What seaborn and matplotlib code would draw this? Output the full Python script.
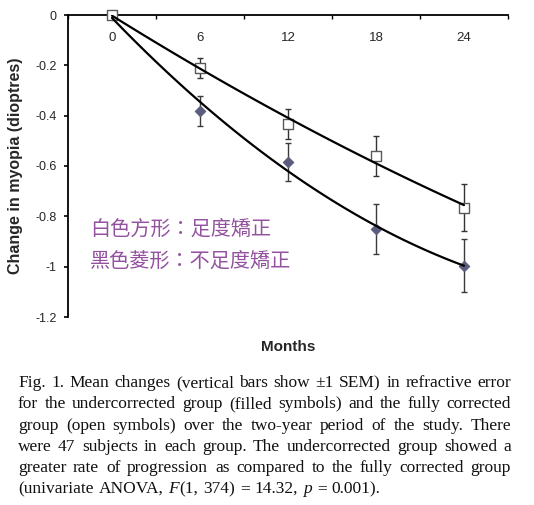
import numpy as np
import pandas as pd
import matplotlib
matplotlib.use("Agg")
import matplotlib.pyplot as plt
import seaborn as sns

# ---- data ----
months = [0, 6, 12, 18, 24]
full_change = [0.0, -0.21, -0.433, -0.56, -0.766]
full_sem = [0.0, 0.04, 0.058, 0.08, 0.093]
under_change = [0.0, -0.38, -0.585, -0.85, -0.996]
under_sem = [0.0, 0.06, 0.075, 0.10, 0.105]
y_ticks = [0, -0.2, -0.4, -0.6, -0.8, -1.0, -1.2]
y_tick_labels = ["0", "-0.2", "-0.4", "-0.6", "-0.8", "-1", "-1.2"]
x_labels = ["0", "6", "12", "18", "24"]
ylabel = "Change in myopia (dioptres)"
xlabel = "Months"
note_lines = ["白色方形：足度矯正", "黑色菱形：不足度矯正"]
caption = [
    "Fig. 1. Mean changes (vertical bars show ±1 SEM) in refractive error",
    "for the undercorrected group (filled symbols) and the fully corrected",
    "group (open symbols) over the two-year period of the study. There",
    "were 47 subjects in each group. The undercorrected group showed a",
    "greater rate of progression as compared to the fully corrected group",
    "(univariate ANOVA, F(1, 374) = 14.32, p = 0.001).",
]

df = pd.DataFrame({
    "month": months * 2,
    "change": full_change + under_change,
    "err": full_sem + under_sem,
    "group": ["full"] * 5 + ["under"] * 5,
})

sns.set_theme(style="white")
plt.rcParams["font.family"] = ["Liberation Sans", "DejaVu Sans"]

W, H = 534, 505
fig = plt.figure(figsize=(W / 100, H / 100), dpi=100)
ax = fig.add_axes([68 / W, 1 - 317 / H, 440 / W, 302 / H])

full = df[df["group"] == "full"]
under = df[df["group"] == "under"]

# error bars
ax.errorbar(full["month"], full["change"], yerr=full["err"], fmt="none", ecolor="#333333",
            elinewidth=1, capsize=2.5, capthick=1, zorder=2)
ax.errorbar(under["month"], under["change"], yerr=under["err"], fmt="none", ecolor="#3a3a3a",
            elinewidth=1, capsize=2.5, capthick=1, zorder=2)

# markers
sns.scatterplot(data=under, x="month", y="change", marker="D", s=28, color="#5c5c7e",
                edgecolor="#5c5c7e", linewidth=0.8, ax=ax, zorder=3, legend=False,
                clip_on=False)
sns.scatterplot(data=full, x="month", y="change", marker="s", s=62, color="white",
                edgecolor="#5a5a5a", linewidth=1, ax=ax, zorder=3.5, legend=False,
                clip_on=False)

# fitted curves
sns.regplot(data=full, x="month", y="change", order=2, ci=None, scatter=False, ax=ax,
            line_kws={"color": "black", "lw": 1.6, "zorder": 4})
sns.regplot(data=under, x="month", y="change", order=2, ci=None, scatter=False, ax=ax,
            line_kws={"color": "black", "lw": 1.6, "zorder": 4})

ax.set_xlim(-3, 27)
ax.set_ylim(-1.2, 0)
for s in ["bottom", "right"]:
    ax.spines[s].set_visible(False)
for s in ["top", "left"]:
    ax.spines[s].set_color("black")
    ax.spines[s].set_linewidth(1.3)

ax.xaxis.set_ticks_position("top")
ax.set_xticks([-3, 3, 9, 15, 21, 27])
ax.set_xticklabels([])
ax.set_xticks(months, minor=True)
ax.set_xticklabels(x_labels, minor=True)
ax.tick_params(axis="x", which="major", direction="in", length=3, width=1, color="black")
ax.tick_params(axis="x", which="minor", length=0, pad=-21, labelsize=9.5)

ax.set_yticks(y_ticks)
ax.set_yticklabels(y_tick_labels)
ax.tick_params(axis="y", which="major", direction="out", length=3, width=1.2,
               color="black", pad=5, labelsize=9, left=True)

ax.set_ylabel(ylabel, fontsize=11.5, fontweight="bold")
ax.yaxis.set_label_coords(-0.102, 0.5)
ax.xaxis.set_label_position("bottom")
ax.set_xlabel(xlabel, fontsize=11, fontweight="bold")
ax.xaxis.set_label_coords(0.5, -0.075)

# Chinese notes
for txt, yc in zip(note_lines, [229, 261]):
    fig.text(90 / W, 1 - yc / H, txt, fontsize=14.5, color="#93529f",
             family=["Noto Sans CJK TC", "DejaVu Sans"], va="center", ha="left")

# caption, justified
fig.canvas.draw()
renderer = fig.canvas.get_renderer()
cap_fs = 12.5
left_px, right_px = 18, 511
line_base = [387, 408, 429.5, 451, 472, 493]
space_w = None
for i, (line, yb) in enumerate(zip(caption, line_base)):
    words = line.split(" ")
    texts = []
    for w in words:
        if w == "F(1,":
            parts = [("F", "italic"), ("(1,", "normal")]
        elif w == "p":
            parts = [("p", "italic")]
        else:
            parts = [(w, "normal")]
        texts.append(parts)
    objs = []
    widths = []
    for parts in texts:
        po = []
        wsum = 0
        for s, st in parts:
            t = fig.text(0, 0, s, fontsize=cap_fs, family="Liberation Serif", style=st,
                         color="#111111", va="baseline", ha="left")
            bb = t.get_window_extent(renderer)
            po.append((t, bb.width))
            wsum += bb.width
        objs.append(po)
        widths.append(wsum)
    if space_w is None:
        t = fig.text(0, 0, "a a", fontsize=cap_fs, family="Liberation Serif")
        t2 = fig.text(0, 0, "aa", fontsize=cap_fs, family="Liberation Serif")
        space_w = t.get_window_extent(renderer).width - t2.get_window_extent(renderer).width
        t.remove(); t2.remove()
    if i < len(caption) - 1:
        gap = (right_px - left_px - sum(widths)) / (len(words) - 1)
    else:
        gap = space_w * 1.15
    x = left_px
    for po, wsum in zip(objs, widths):
        xx = x
        for t, wd in po:
            t.set_position((xx / W, 1 - yb / H))
            xx += wd
        x += wsum + gap

fig.savefig("out.png", dpi=100, facecolor="white")
